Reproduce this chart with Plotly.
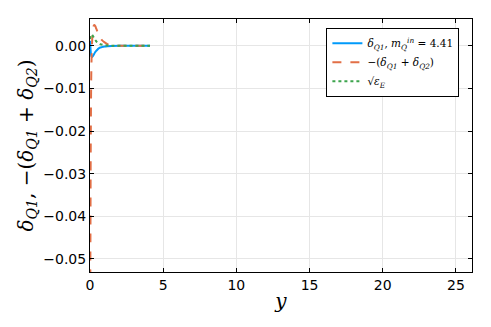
import plotly.graph_objects as go

# shared y-grid (the "y" of the x axis)
y_vals = [0.0, 0.03, 0.06, 0.1, 0.15, 0.2, 0.25, 0.3, 0.35, 0.4, 0.5, 0.6, 0.7,
          0.8, 1.0, 1.2, 1.5, 2.0, 2.5, 3.0, 3.5, 4.1]

delta_q1 = [0.0012, -0.0004, -0.0018, -0.0025, -0.0026, -0.0024, -0.0021, -0.0018,
            -0.0015, -0.0013, -0.0009, -0.0006, -0.0004, -0.0003, -0.00015, -0.00008,
            -0.00003, 0.0, 0.0, 0.0, 0.0, 0.0]

minus_sum = [-0.08, -0.045, -0.018, -0.004, 0.0015, 0.0038, 0.0047, 0.0049, 0.0047,
             0.0043, 0.0034, 0.0026, 0.0019, 0.0014, 0.0008, 0.0004, 0.00015, 0.00003,
             0.0, 0.0, 0.0, 0.0]

sqrt_eps = [0.0016, 0.0022, 0.0026, 0.0027, 0.0026, 0.0023, 0.002, 0.0017, 0.0014,
            0.0012, 0.0008, 0.0006, 0.0004, 0.0003, 0.00015, 0.00008, 0.00003, 0.0,
            0.0, 0.0, 0.0, 0.0]

y_ticks = [0.0, -0.01, -0.02, -0.03, -0.04, -0.05]
x_ticks = [0, 5, 10, 15, 20, 25]

fig = go.Figure()
fig.add_trace(go.Scatter(x=y_vals, y=delta_q1, mode="lines",
    name="<i>δ<sub>Q1</sub></i>, <i>m<sub>Q</sub><sup>in</sup></i> = 4.41",
    line=dict(color="#009AFA", width=2, shape="spline")))
fig.add_trace(go.Scatter(x=y_vals, y=minus_sum, mode="lines",
    name="−(<i>δ<sub>Q1</sub></i> + <i>δ<sub>Q2</sub></i>)",
    line=dict(color="#E26F46", width=2, dash="dash", shape="spline")))
fig.add_trace(go.Scatter(x=y_vals, y=sqrt_eps, mode="lines",
    name="√<i>ε<sub>E</sub></i>",
    line=dict(color="#3DA44D", width=2, dash="dot", shape="spline")))

axis_style = dict(showline=True, linecolor="black", linewidth=1, mirror="allticks",
                  ticks="inside", ticklen=4, tickcolor="black", automargin=False,
                  showgrid=True, gridcolor="#e6e6e6", gridwidth=1, zeroline=False,
                  tickfont=dict(family="DejaVu Sans", size=14, color="black"))

# the page body adds an 8px margin, so the figure is sized to sit inside it
fig.update_layout(
    width=475, height=311,
    margin=dict(l=82, r=11, t=11, b=47),
    plot_bgcolor="white", paper_bgcolor="white",
    font=dict(family="DejaVu Sans", color="black"),
    xaxis=dict(range=[0, 26.1], tickvals=x_ticks,
               title=dict(text="<i>y</i>", font=dict(family="DejaVu Serif", size=20),
                          standoff=2),
               **axis_style),
    yaxis=dict(range=[-0.0531, 0.0063], tickvals=y_ticks, tickformat=".2f",
               title=dict(text="<i>δ<sub>Q1</sub></i>, −(<i>δ<sub>Q1</sub></i> + <i>δ<sub>Q2</sub></i>)",
                          font=dict(family="DejaVu Serif", size=20), standoff=4),
               **axis_style),
    legend=dict(x=0.967, y=0.965, xanchor="right", yanchor="top",
                bgcolor="white", bordercolor="black", borderwidth=1, itemwidth=30,
                font=dict(family="DejaVu Serif", size=10.5), tracegroupgap=0),
    showlegend=True,
)

fig.write_html("out.html")
